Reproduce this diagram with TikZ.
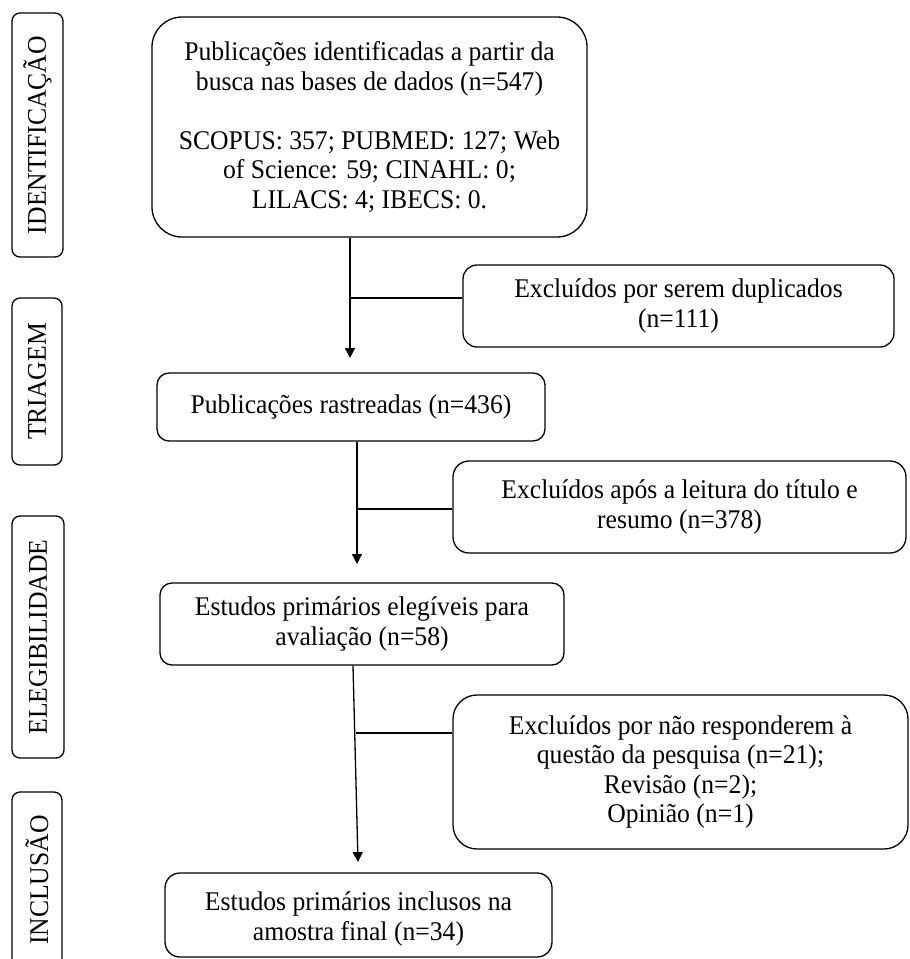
\documentclass[tikz,border=0pt]{standalone}
\usepackage{fontspec}
\setmainfont[FakeStretch=0.95]{Liberation Serif}
\usetikzlibrary{arrows.meta,calc}
\begin{document}
\begin{tikzpicture}[x=1pt,y=1pt,
  every node/.style={font=\fontsize{27}{29.5}\selectfont, align=center, inner sep=0pt},
  box/.style={draw, line width=1.3pt},
  phase/.style={draw, line width=1.3pt, rounded corners=8pt, rotate=90},
  link/.style={line width=1.3pt},
  arr/.style={link, -{Triangle[length=10pt,width=10pt]}}]
\useasboundingbox (0,0) rectangle (910,-959);
% phase labels
\node[phase, minimum width=244pt, minimum height=51pt] (p1) at (37.5,-135) {IDENTIFICAÇÃO};
\node[phase, minimum width=167pt, minimum height=50pt] (p2) at (37,-381.5) {TRIAGEM};
\node[phase, minimum width=242pt, minimum height=52pt] (p3) at (38,-637) {ELEGIBILIDADE};
\node[phase, minimum width=176pt, minimum height=50pt] (p4) at (37,-880) {INCLUSÃO};
% main boxes
\node[box, rounded corners=30pt, minimum width=435pt, minimum height=220pt] (b1) at (369.5,-127)
  {Publicações identificadas a partir da\\ busca nas bases de dados (n=547)\\[29.5pt]
   SCOPUS: 357; PUBMED: 127; Web\\ of Science: 59; CINAHL: 0;\\ LILACS: 4; IBECS: 0.};
\node[box, rounded corners=14pt, minimum width=431pt, minimum height=82pt] (e1) at (678.5,-306)
  {Excluídos por serem duplicados\\ (n=111)};
\node[box, rounded corners=12pt, minimum width=388pt, minimum height=68pt] (b2) at (351,-407)
  {Publicações rastreadas (n=436)};
\node[box, rounded corners=16pt, minimum width=453pt, minimum height=92pt] (e2) at (679.5,-507)
  {Excluídos após a leitura do título e\\ resumo (n=378)};
\node[box, rounded corners=12pt, minimum width=404pt, minimum height=82pt] (b3) at (362,-624)
  {Estudos primários elegíveis para\\ avaliação (n=58)};
\node[box, rounded corners=24pt, minimum width=455pt, minimum height=154pt] (e3) at (680.5,-772)
  {Excluídos por não responderem à\\ questão da pesquisa (n=21);\\ Revisão (n=2);\\ Opinião (n=1)};
\node[box, rounded corners=15pt, minimum width=387pt, minimum height=84pt] (b4) at (358.5,-915)
  {\rule{0pt}{27pt}Estudos primários inclusos na\\ amostra final (n=34)};
% connectors
\coordinate (t1) at (350,-358);
\coordinate (j1) at (350,-298);
\coordinate (t2) at (357,-564);
\coordinate (j2) at (357,-509);
\coordinate (s3) at (353,-665);
\coordinate (t3) at (358,-862);
\coordinate (j3) at (356,-733);
\draw[arr] (b1.south -| t1) -- (t1);
\draw[link] (e1.west |- j1) -- (j1);
\draw[arr] (b2.south -| t2) -- (t2);
\draw[link] (e2.west |- j2) -- (j2);
\draw[arr] (b3.south -| s3) -- (t3);
\draw[link] (e3.west |- j3) -- (j3);
\end{tikzpicture}
\end{document}
